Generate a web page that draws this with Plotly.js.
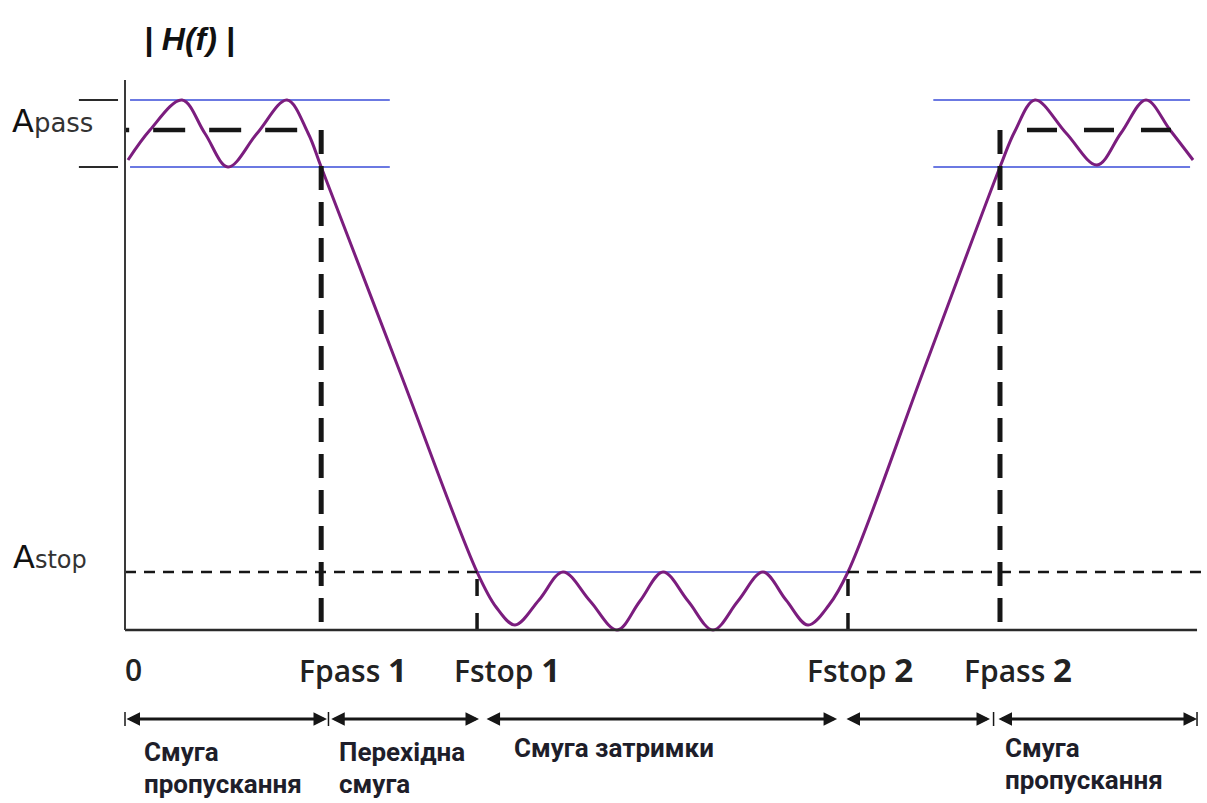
<!DOCTYPE html>
<html>
<head>
<meta charset="utf-8">
<script src="https://cdn.plot.ly/plotly-3.0.1.min.js"></script>
<style>
  html, body { margin: 0; padding: 0; background: #ffffff; }
  #chart { width: 1207px; height: 803px; }
</style>
</head>
<body>
<div id="chart"></div>
<script>
// Band-stop filter: magnitude response |H(f)| with its tolerance bands.

// Frequency axis (relative units, 0 .. 100) and the filter's band edges
const tickLabels = ['0', 'Fpass 1', 'Fstop 1', 'Fstop 2', 'Fpass 2'];
const bandEdges  = [0, 18.3, 32.84, 67.44, 81.62];
const fEnd = 100;

// Amplitude levels (Apass = 1)
const aPass = 1.0;
const passUpper = 1.06;
const passLower = 0.926;
const aStop = 0.116;
const magTop = 1.1;

// Extent of the pass-band tolerance lines
const passTolFrom = [0.47, 75.4];
const passTolTo   = [24.7, 99.35];

// Response curve, read point by point
const freq = [0.28, 2.33, 5.32, 7.46, 9.61, 12.31, 15.11, 17.07, 18.3,
              25.65, 32.84, 34.61, 36.38, 38.62, 40.86, 43.38, 45.9, 48.04,
              50.19, 52.52, 54.85, 57.18, 59.51, 61.66, 63.71, 65.67, 67.44,
              74.53, 81.62, 83.02, 84.89, 87.78, 90.67, 92.91, 95.24, 97.48, 99.63];
const magnitude = [0.94, 1.0, 1.06, 0.993, 0.926, 0.993, 1.06, 0.994, 0.926,
                   0.516, 0.116, 0.046, 0.01, 0.06, 0.116, 0.058, 0.0, 0.058,
                   0.116, 0.058, 0.0, 0.058, 0.116, 0.06, 0.01, 0.05, 0.116,
                   0.521, 0.926, 0.998, 1.06, 0.994, 0.93, 0.994, 1.06, 1.0, 0.94];

// Band names under the frequency axis (one entry per band, split into lines)
const bandNames = [
  ['Смуга', 'пропускання'],
  ['Перехідна', 'смуга'],
  ['Смуга затримки'],
  [],
  ['Смуга', 'пропускання']
];

// ---------------------------------------------------------------------------
const [f0, fPass1, fStop1, fStop2, fPass2] = bandEdges;
const INK = '#161616';
const BLUE = '#6b79e2';
const PURPLE = '#7b1d7e';

const traces = [];

// blue tolerance lines
const tolX = [], tolY = [];
passTolFrom.forEach((a, i) => {
  [passUpper, passLower].forEach(v => {
    tolX.push(a, passTolTo[i], null);
    tolY.push(v, v, null);
  });
});
tolX.push(fStop1, fStop2);
tolY.push(aStop, aStop);
traces.push({x: tolX, y: tolY, mode: 'lines', line: {color: BLUE, width: 2}, hoverinfo: 'skip'});

// response curve
traces.push({x: freq, y: magnitude, mode: 'lines',
             line: {color: PURPLE, width: 3, shape: 'spline', smoothing: 1}, hoverinfo: 'skip'});

// Apass reference (heavy dashes), each run starting with a gap at its Fpass edge
traces.push({x: [fPass1, f0], y: [aPass, aPass], mode: 'lines',
             line: {color: INK, width: 4.5, dash: '0px,24px,32px,0px'}, hoverinfo: 'skip'});
traces.push({x: [fPass2, freq[freq.length - 1]], y: [aPass, aPass], mode: 'lines',
             line: {color: INK, width: 4.5, dash: '0px,27px,30px,0px'}, hoverinfo: 'skip'});

// Fpass markers (heavy vertical dashes)
[fPass1, fPass2].forEach(f => {
  traces.push({x: [f, f], y: [aPass, 0], mode: 'lines',
               line: {color: INK, width: 5, dash: '24px,12px'}, hoverinfo: 'skip'});
});

// Astop reference (light dashes)
traces.push({x: [f0, fStop1, null, fStop2, fEnd + 0.6],
             y: [aStop, aStop, null, aStop, aStop],
             mode: 'lines', line: {color: INK, width: 2.5, dash: '11px,8px'}, hoverinfo: 'skip'});

// Fstop markers
[fStop1, fStop2].forEach(f => {
  traces.push({x: [f, f], y: [0, aStop], mode: 'lines',
               line: {color: INK, width: 3.5, dash: '17px,17px'}, hoverinfo: 'skip'});
});

// axes, drawn as plain lines
const shapes = [
  {type: 'line', xref: 'x', yref: 'y', x0: 0, x1: fEnd, y0: 0, y1: 0, line: {color: '#2a2a2a', width: 2.5}},
  {type: 'line', xref: 'x', yref: 'y', x0: 0, x1: 0, y0: 0, y1: magTop, line: {color: '#3a3a3a', width: 2}}
];
// short marks for the pass-band tolerance on the amplitude axis
[passUpper, passLower].forEach(v => {
  shapes.push({type: 'line', xref: 'x', yref: 'y', x0: -4.3, x1: -0.65, y0: v, y1: v,
               line: {color: '#2a2a2a', width: 2}});
});

const annotations = [];
const arrowRow = -0.178;

// band extent arrows
const segStart = [0, fPass1 + 0.8, fStop1 + 0.75, fStop2 - 0.28, fPass2 - 0.28];
const segEnd   = [fPass1 + 0.54, fStop1 + 0.18, fStop2 - 1.02, fPass2 - 0.93, fEnd];
segStart.forEach((s, i) => {
  annotations.push({
    xref: 'x', yref: 'y', axref: 'x', ayref: 'y',
    x: segEnd[i], y: arrowRow, ax: s, ay: arrowRow,
    text: '', showarrow: true, arrowside: 'end+start',
    arrowhead: 2, startarrowhead: 2, arrowsize: 0.9, startarrowsize: 0.9,
    arrowwidth: 3, arrowcolor: INK, standoff: 0, startstandoff: 0
  });
});
[0, fPass1 + 0.68, fPass2 - 0.6, fEnd].forEach(f => {
  shapes.push({type: 'line', xref: 'x', yref: 'y', x0: f, x1: f,
               y0: arrowRow + 0.014, y1: arrowRow - 0.014, line: {color: INK, width: 1.5}});
});

// frequency edge labels
const tickShift = [-2, -24, -25, -43, -38];
tickLabels.forEach((t, i) => {
  const parts = t.split(' ');
  const txt = parts.length > 1
    ? parts[0] + ' <b><span style="font-size:33px">' + parts[1] + '</span></b>'
    : t;
  annotations.push({
    xref: 'x', yref: 'y', x: bandEdges[i], y: -0.078, xanchor: 'left', yanchor: 'middle',
    xshift: tickShift[i], text: txt, showarrow: false,
    font: {family: 'Open Sans, sans-serif', size: 30, color: '#222222', weight: 600}
  });
});

// band names
const bandStart = [f0, fPass1, fStop1, fStop2, fPass2];
const nameShift = [17, 16, 35, 0, 3];
const nameLift  = [0, 0, 4, 0, 4];
bandNames.forEach((lines, i) => {
  lines.forEach((ln, k) => {
    annotations.push({
      xref: 'x', yref: 'y', x: bandStart[i], y: k === 0 ? -0.244 : -0.308,
      xanchor: 'left', yanchor: 'middle', xshift: nameShift[i], yshift: nameLift[i],
      text: ln, showarrow: false,
      font: {family: 'Roboto, sans-serif', size: 26, color: '#1e1e2a', weight: 700}
    });
  });
});

// amplitude labels
annotations.push({
  xref: 'x', yref: 'y', x: -10.75, y: 1.018, xanchor: 'left', yanchor: 'middle',
  text: 'A<span style="font-size:26px;fill:#333333">pass</span>', showarrow: false,
  font: {family: 'DejaVu Sans, sans-serif', size: 32, color: '#111111'}
});
annotations.push({
  xref: 'x', yref: 'y', x: -10.6, y: 0.146, xanchor: 'left', yanchor: 'middle',
  text: 'A<span style="font-size:24px;fill:#333333">stop</span>', showarrow: false,
  font: {family: 'DejaVu Sans, sans-serif', size: 32, color: '#111111'}
});

// axis title
annotations.push({
  xref: 'x', yref: 'y', x: 6.06, y: 1.182, xanchor: 'center', yanchor: 'middle',
  text: '| H(f) |', showarrow: false,
  font: {family: 'Liberation Sans, Arial, sans-serif', size: 32, color: '#111111',
         style: 'italic', weight: 700}
});

const layout = {
  width: 1207, height: 803, autosize: false,
  margin: {l: 0, r: 0, t: 0, b: 0, pad: 0},
  paper_bgcolor: '#ffffff', plot_bgcolor: '#ffffff',
  showlegend: false,
  xaxis: {range: [-11.66, 100.93], visible: false, fixedrange: true},
  yaxis: {range: [-0.346, 1.26], visible: false, fixedrange: true},
  shapes: shapes,
  annotations: annotations
};

Plotly.newPlot('chart', traces, layout, {displayModeBar: false, staticPlot: true});
</script>
</body>
</html>
